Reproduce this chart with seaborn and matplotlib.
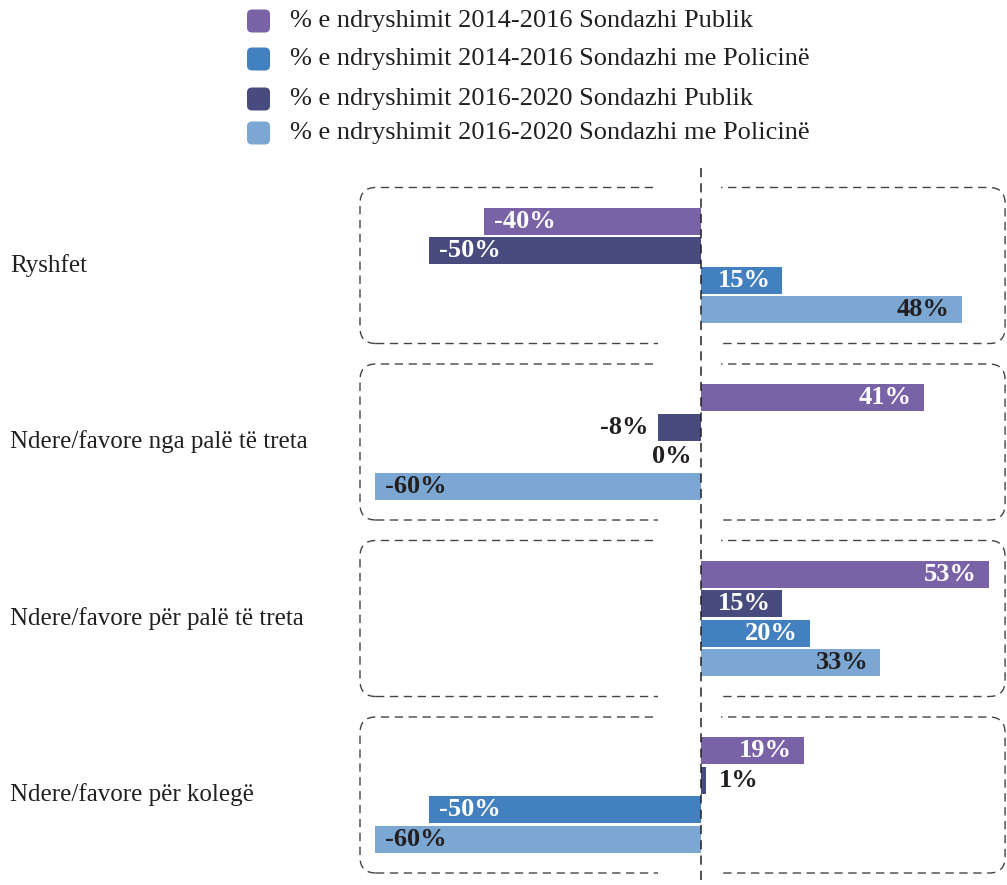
import pandas as pd
import numpy as np
import seaborn as sns
import matplotlib.pyplot as plt
from matplotlib.patches import FancyBboxPatch, Rectangle
from matplotlib.transforms import IdentityTransform

# chart data
categories = ["Ryshfet", "Ndere/favore nga palë të treta",
              "Ndere/favore për palë të treta", "Ndere/favore për kolegë"]
series = ["% e ndryshimit 2014-2016 Sondazhi Publik",
          "% e ndryshimit 2016-2020 Sondazhi Publik",
          "% e ndryshimit 2014-2016 Sondazhi me Policinë",
          "% e ndryshimit 2016-2020 Sondazhi me Policinë"]
pub_1416 = [-40, 41, 53, 19]
pub_1620 = [-50, -8, 15, 1]
pol_1416 = [15, 0, 20, -50]
pol_1620 = [48, -60, 33, -60]
colors = ["#7963a6", "#474b7e", "#4380bf", "#7ba7d2"]
legend_order = [0, 2, 1, 3]

rows = []
for s, vals in zip(series, [pub_1416, pub_1620, pol_1416, pol_1620]):
    for c, v in zip(categories, vals):
        rows.append({"kategoria": c, "seria": s, "vlera": v})
df = pd.DataFrame(rows)

sns.set_style("white")
plt.rcParams['font.family'] = ['Liberation Serif', 'DejaVu Serif']

W, H = 1007, 885
fig = plt.figure(figsize=(W / 100, H / 100), dpi=100)
ax = fig.add_axes([0, 0, 1, 1])

sns.barplot(data=df, y="kategoria", x="vlera", hue="seria", hue_order=series,
            order=categories, palette=colors, saturation=1, orient="h",
            width=0.67, gap=0.08, linewidth=0, legend=False, ax=ax, zorder=3)

# map data to the reference pixel grid
x0, px_per = 701, 5.43
y0, py_per = 265.5, 176.5
ax.set_xlim(-x0 / px_per, (W - x0) / px_per)
ax.set_ylim((H - y0) / py_per, -y0 / py_per)
ax.axis("off")

dark = "#231f20"
lab_fs = 19
for si, cont in enumerate(ax.containers):
    for bar, v in zip(cont.patches, df[df.seria == series[si]].vlera):
        yc = bar.get_y() + bar.get_height() / 2
        txt = f"{v}%"
        if abs(v) >= 15:
            col = dark if si == 3 else "white"
            if v < 0:
                off, ha = 10, "left"
            else:
                off, ha = -12, "right"
        elif v > 0:
            col, off, ha = dark, 12, "left"
        else:
            col, off, ha = dark, -9, "right"
        ax.annotate(txt, (v, yc), xytext=(off, 0), textcoords="offset pixels",
                    ha=ha, va="center", color=col, fontsize=lab_fs,
                    fontweight="bold", zorder=5)

# category labels
for i, c in enumerate(categories):
    ax.text(0.01, i, c, transform=ax.get_yaxis_transform(), ha="left",
            va="center", fontsize=18, color=dark)

# dashed rounded boxes around each group
fig.canvas.draw()
for i in range(len(categories)):
    (lx, ty), = ax.transData.transform([(-62.8, i - 0.442)])
    (rx, by), = ax.transData.transform([(56.0, i + 0.442)])
    box = FancyBboxPatch((lx, by), rx - lx, ty - by,
                         boxstyle="round,pad=0,rounding_size=16",
                         transform=IdentityTransform(), fill=False,
                         edgecolor="#444444", linewidth=1.0,
                         linestyle=(0, (6, 4)), zorder=1)
    ax.add_patch(box)
    for yy in (i - 0.442, i + 0.442):
        ax.add_patch(Rectangle((-7.9, yy - 0.03), 11.6, 0.06, facecolor="white",
                               edgecolor="none", zorder=2))

# zero line
ax.plot([0, 0], [(168 - y0) / py_per, (H - y0) / py_per], color="#222222",
        linewidth=1.1, linestyle=(0, (6, 4)), zorder=4)

# legend
leg_y = [21, 59, 99, 133]
for k, yy in zip(legend_order, leg_y):
    sq = FancyBboxPatch((247, H - yy - 11.5), 23, 23,
                        boxstyle="round,pad=0,rounding_size=5",
                        transform=IdentityTransform(), facecolor=colors[k],
                        edgecolor="none")
    fig.patches.append(sq)
    fig.text(290 / W, 1 - yy / H, series[k], ha="left", va="center",
             fontsize=19, color=dark)

fig.savefig("out.png", dpi=100)
